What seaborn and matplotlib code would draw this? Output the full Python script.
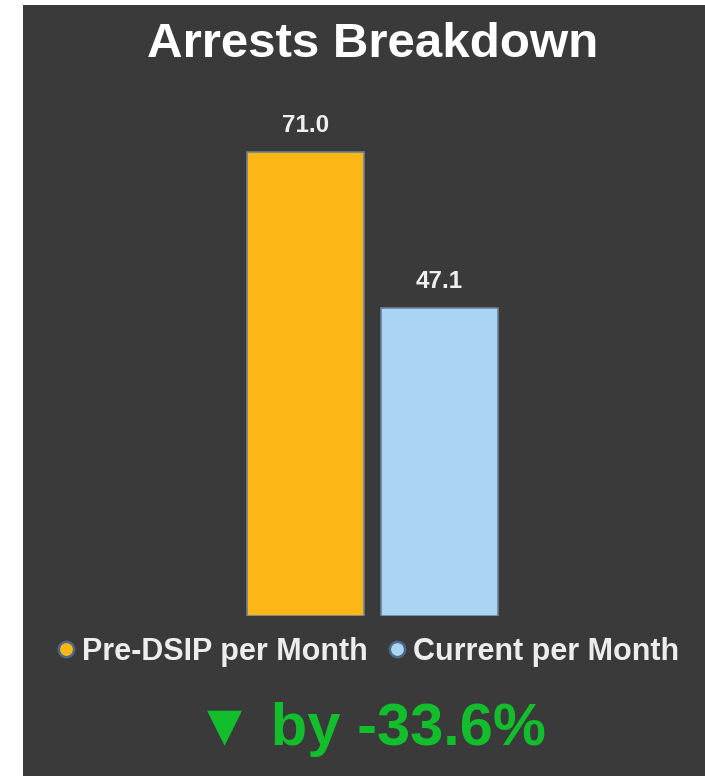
import matplotlib
matplotlib.use("Agg")
import matplotlib.pyplot as plt
import seaborn as sns
import pandas as pd
from matplotlib.lines import Line2D

categories = ["Pre-DSIP per Month", "Current per Month"]
values = [71.0, 47.1]
bar_colors = ["#FCB716", "#A9D4F4"]
change_text = "\u25BC by -33.6%"
title_text = "Arrests Breakdown"

sns.set_theme(style="dark")
plt.rcParams['font.family'] = ['Liberation Sans', 'DejaVu Sans']

BG = "#3A3A3A"
W, H = 705, 776
fig = plt.figure(figsize=(W / 100, H / 100), dpi=100)
fig.patch.set_facecolor("white")
# dark panel (the reference has a thin white margin on the left and top)
fig.add_artist(plt.Rectangle((23 / W, 0), 1 - 23 / W, 1 - 5 / H, transform=fig.transFigure,
                             facecolor=BG, edgecolor="none", zorder=0))

ax_bottom_px = 616
ax_top_px = 90
ax = fig.add_axes([23 / W, 1 - ax_bottom_px / H, 1 - 23 / W, (ax_bottom_px - ax_top_px) / H])
ax.set_facecolor("none")

df = pd.DataFrame({"cat": categories, "val": values})
sns.barplot(data=df, x="cat", y="val", hue="cat", palette=bar_colors, width=117 / 134,
            saturation=1, edgecolor="#6A8197", linewidth=1.2, legend=False, ax=ax)

px_per_unit = (616 - 152) / 71.0
ax.set_ylim(0, (ax_bottom_px - ax_top_px) / px_per_unit)
ax.set_xlim((23 - 305.5) / 134, (705 - 305.5) / 134)
ax.axis("off")

for i, v in enumerate(values):
    ax.annotate(f"{v:.1f}", (i, v), xytext=(0, 14.6), textcoords="offset points",
                ha="center", va="baseline", color="#EFEFEF", fontsize=17.5, fontweight="bold")

fig.text(372.5 / W, 1 - 57 / H, title_text, ha="center", va="baseline", color="white",
         fontsize=35.5, fontweight="bold")

handles = [Line2D([0], [0], marker="o", linestyle="none", markersize=11,
                  markerfacecolor=c, markeredgecolor="#4A6A86", markeredgewidth=1.8)
           for c in bar_colors]
leg = ax.legend(handles, categories, loc="center left", bbox_to_anchor=(57 / W, 1 - 652 / H),
                bbox_transform=fig.transFigure, ncol=2, frameon=False, borderpad=0,
                borderaxespad=0, handletextpad=0.22, columnspacing=0.65, handlelength=0.6,
                prop={"weight": "bold", "size": 22})
for t in leg.get_texts():
    t.set_color("#EDEDED")

fig.text(195 / W, 1 - 745 / H, change_text, ha="left", va="baseline", color="#12BE2C",
         fontsize=43, fontweight="bold")

fig.savefig("out.png", dpi=100, facecolor=fig.get_facecolor())
